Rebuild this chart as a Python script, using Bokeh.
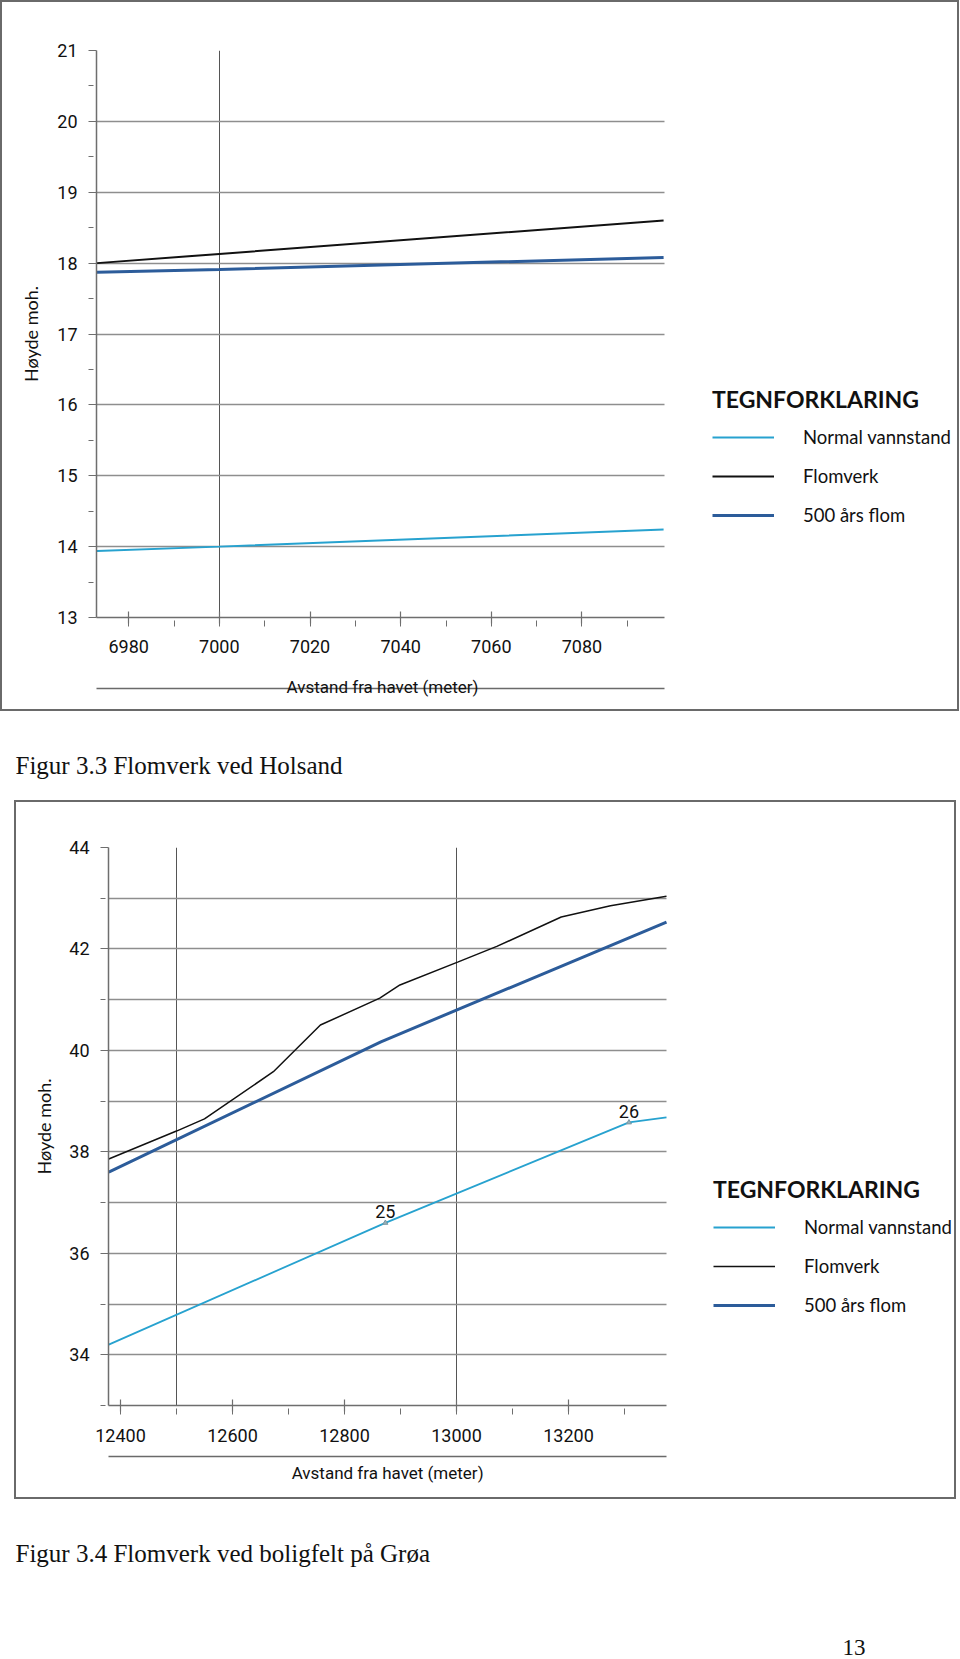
from bokeh.plotting import figure
from bokeh.models import (Range1d, SingleIntervalTicker, FixedTicker, Legend, LegendItem,
                          ColumnDataSource, LinearAxis)
from bokeh.embed import file_html
from bokeh.resources import INLINE
from bokeh.core.properties import value

# ---------------- data: Figur 3.3 Holsand ----------------
holsand_dist = [6973, 7000, 7098]
holsand_normal = [13.94, 14.00, 14.24]
holsand_flomverk = [18.00, 18.13, 18.60]
holsand_flom500 = [17.87, 17.91, 18.08]
holsand_xlim = (6972.9, 7098.2)
holsand_ylim = (13, 21)

# ---------------- data: Figur 3.4 Grøa ----------------
groa_dist_flomverk = [12379, 12500, 12550, 12673, 12757, 12863, 12899, 13002, 13072, 13187, 13275, 13375]
groa_flomverk = [37.86, 38.41, 38.65, 39.58, 40.50, 41.03, 41.29, 41.74, 42.05, 42.63, 42.85, 43.04]
groa_dist_flom500 = [12379, 12865, 13375]
groa_flom500 = [37.60, 40.17, 42.53]
groa_dist_normal = [12379, 12873, 13308, 13375]
groa_normal = [34.20, 36.60, 38.58, 38.68]
groa_profile_labels = ["", "25", "26", ""]
groa_xlim = (12378.6, 13375)
groa_ylim = (33, 44)

legend_title = "TEGNFORKLARING"
legend_labels = ["Normal vannstand", "Flomverk", "500 års flom"]
x_title = "Avstand fra havet (meter)"
y_title = "Høyde moh."
caption_1 = "Figur 3.3 Flomverk ved Holsand"
caption_2 = "Figur 3.4 Flomverk ved boligfelt på Grøa"
page_no = "13"

C_NORMAL = "#27a2cf"
C_FLOMVERK = "#111111"
C_500 = "#2c5c9a"
GRID = "#8e8e8e"
AXIS = "#6e6e6e"
BOX = "2px solid #6a6a6a"

TICK_FONT = "Roboto"
HUMAN = "Lato"
SERIF = "Liberation Serif"


def make_fig(W, H, fl, ft, fb, data_px, xlim, ylim, xint, yint, styles):
    # canvas is W x H, drawn from (2,2) inside a 2px border
    fr = 4
    frame_w = W - fl - fr
    x0, x1 = xlim
    x_end = x0 + frame_w * (x1 - x0) / data_px   # frame extended to the right for the legend
    p = figure(width=W, height=H, x_range=Range1d(x0, x_end), y_range=Range1d(*ylim),
               output_backend="svg", toolbar_location=None, styles=styles,
               min_border_left=fl, min_border_right=fr, min_border_top=ft, min_border_bottom=H - fb)
    p.outline_line_color = None
    p.xaxis.ticker = SingleIntervalTicker(interval=xint, num_minor_ticks=2)
    p.yaxis.ticker = SingleIntervalTicker(interval=yint, num_minor_ticks=2)
    p.xaxis.bounds = xlim
    for ax in (p.xaxis[0], p.yaxis[0]):
        ax.axis_line_color = AXIS
        ax.axis_line_width = 1.5
        ax.major_tick_line_color = AXIS
        ax.minor_tick_line_color = AXIS
        ax.major_tick_line_width = 1.2
        ax.minor_tick_line_width = 1
        ax.major_label_text_font = TICK_FONT
        ax.major_label_text_font_size = "18px"
        ax.major_label_text_color = "#111"
    p.xaxis.major_tick_in = 6
    p.xaxis.major_tick_out = 6
    p.xaxis.minor_tick_in = -3
    p.xaxis.minor_tick_out = 9
    p.yaxis.major_tick_in = 0
    p.yaxis.major_tick_out = 6
    p.yaxis.minor_tick_in = -3
    p.yaxis.minor_tick_out = 8
    # invisible spacer label on the tick axis, pushes the second (title) axis down
    p.xaxis.axis_label = " "
    p.xaxis.axis_label_text_font = TICK_FONT
    p.yaxis.axis_label = y_title
    p.yaxis.axis_label_text_font = HUMAN
    p.yaxis.axis_label_text_font_style = "normal"
    p.yaxis.axis_label_text_font_size = "18px"
    p.yaxis.axis_label_text_color = "#111"
    # second axis below: its line, and the title as a single label centred on the data span
    mid = round((x0 + x1) / 2)
    ax2 = LinearAxis(ticker=FixedTicker(ticks=[mid], minor_ticks=[]), bounds=xlim,
                     major_label_overrides={mid: x_title},
                     axis_line_color="#6a6a6a", axis_line_width=1.3,
                     major_tick_line_color=None, minor_tick_line_color=None,
                     major_tick_in=0, major_tick_out=0, minor_tick_in=0, minor_tick_out=0,
                     major_label_text_font=TICK_FONT, major_label_text_font_size="17px",
                     major_label_text_color="#111")
    p.add_layout(ax2, "below")
    p.xgrid.ticker = SingleIntervalTicker(interval=500)
    p.xgrid.bounds = xlim
    p.xgrid.grid_line_color = "#555555"
    p.xgrid.grid_line_width = 1
    p.ygrid.ticker = SingleIntervalTicker(interval=1)
    p.ygrid.cross_bounds = xlim
    p.ygrid.grid_line_color = GRID
    p.ygrid.grid_line_width = 1.6
    return p, ax2


def add_legend(p, renderers, x, y):
    items = [LegendItem(label=lab, renderers=[r]) for lab, r in zip(legend_labels, renderers)]
    lg = Legend(items=items, location=(x, y), title=legend_title,
                title_text_font=HUMAN, title_text_font_size="23px", title_text_font_style="bold",
                title_text_color="#111", title_standoff=13,
                label_text_font=HUMAN, label_text_font_size="18.5px", label_text_color="#111",
                glyph_width=62, glyph_height=20, label_height=20, label_standoff=29, spacing=17,
                padding=0, margin=0, border_line_alpha=0, background_fill_alpha=0)
    p.add_layout(lg)


def text_fig(H, xs, ys, texts, sizes):
    t = figure(width=960, height=H, x_range=Range1d(0, 960), y_range=Range1d(H, 0),
               output_backend="svg", toolbar_location=None,
               min_border_left=0, min_border_right=0, min_border_top=0, min_border_bottom=0)
    t.axis.visible = False
    t.grid.visible = False
    t.outline_line_color = None
    src = ColumnDataSource(dict(x=xs, y=ys, t=texts, s=sizes))
    t.text("x", "y", text="t", source=src, text_font=value(SERIF), text_font_size="s",
           text_color="#111", text_baseline="alphabetic", text_align="left")
    return t


# ================= Figure 3.3 (page y 0..711) =================
# canvas origin at page (2,2); frame page x 96.., y 50..617; data 6972.9..7098.2 spans 568 px
p1, ax1b = make_fig(959, 711, 94, 48, 615, 568, holsand_xlim, holsand_ylim, 20, 1, {"border": BOX})
p1.xaxis[0].major_label_standoff = 13
p1.xaxis[0].axis_label_standoff = 6
p1.xaxis[0].axis_label_text_font_size = "20px"
ax1b.major_label_standoff = -12
p1.yaxis.major_label_standoff = 11
p1.yaxis.axis_label_standoff = 12

r_n1 = p1.line(holsand_dist, holsand_normal, line_color=C_NORMAL, line_width=2)
r_f1 = p1.line(holsand_dist, holsand_flomverk, line_color=C_FLOMVERK, line_width=2)
r_5001 = p1.line(holsand_dist, holsand_flom500, line_color=C_500, line_width=3)
add_legend(p1, [r_n1, r_f1, r_5001], 616, 91)

# caption between the charts (page y 711..800)
c1 = text_fig(89, [15], [54], [caption_1], ["25px"])

# ================= Figure 3.4 (page y 800..1499) =================
# canvas origin at page (16,802); frame page x 108.., y 847..1405; data 12378.6..13375 spans 558 px
p2, ax2b = make_fig(942, 699, 92, 45, 603, 558, groa_xlim, groa_ylim, 200, 2,
                    {"border": BOX, "margin-left": "14px"})
p2.xaxis[0].major_label_standoff = 14
p2.xaxis[0].axis_label_standoff = 0
p2.xaxis[0].axis_label_text_font_size = "8px"
ax2b.major_label_standoff = 6
p2.yaxis.major_label_standoff = 11
p2.yaxis.axis_label_standoff = 11

r_n2 = p2.line(groa_dist_normal, groa_normal, line_color=C_NORMAL, line_width=1.8)
r_f2 = p2.line(groa_dist_flomverk, groa_flomverk, line_color=C_FLOMVERK, line_width=1.5)
r_5002 = p2.line(groa_dist_flom500, groa_flom500, line_color=C_500, line_width=3)

src_pts = ColumnDataSource(dict(x=groa_dist_normal[1:3], y=groa_normal[1:3], t=groa_profile_labels[1:3]))
p2.scatter("x", "y", source=src_pts, marker="triangle", size=5, fill_color="#9bb0b8", line_color="#7a9aa5")
p2.text("x", "y", text="t", source=src_pts, y_offset=-11, text_align="center", text_baseline="middle",
        text_font=value(TICK_FONT), text_font_size="18px", text_color="#111")
add_legend(p2, [r_n2, r_f2, r_5002], 605, 89)

# footer (page y 1499..1659)
f2 = text_fig(160, [15, 842], [54, 148], [caption_2, page_no], ["25px", "23px"])

open("out.html", "w").write(file_html([p1, c1, p2, f2], INLINE))
